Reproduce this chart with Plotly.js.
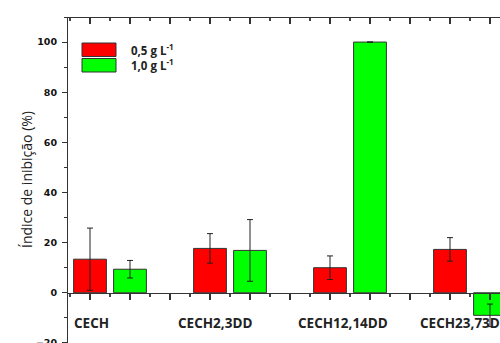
<!DOCTYPE html>
<html>
<head>
<meta charset="utf-8">
<script src="https://cdn.plot.ly/plotly-3.0.1.min.js"></script>
<style>html,body{margin:0;padding:0;overflow:hidden;background:#fff;}</style>
</head>
<body>
<div id="chart" style="width:500px;height:368px;"></div>
<script>
const categories = ['CECH', 'CECH2,3DD', 'CECH12,14DD', 'CECH23,73DD'];
const seriesNames = ['0,5 g L<sup>-1</sup>', '1,0 g L<sup>-1</sup>'];
const low = [13.4, 17.7, 10.0, 17.3];
const lowErr = [12.4, 5.9, 4.7, 4.7];
const high = [9.4, 16.9, 100, -9.0];
const highErr = [3.5, 12.3, null, 4.5];
const yTickVals = [-20, 0, 20, 40, 60, 80, 100];
const yTitle = 'Índice de inibição (%)';

const W = 500, H = 368, L = 68, T = 17;
const PW = W - L, PH = H - T;
const px = (x) => (x - L) / PW;
const py = (y) => (H - y) / PH;

const redX = categories.map((c, i) => i * 3 + 1);
const greenX = categories.map((c, i) => i * 3 + 2);
const labelShift = [0.45, 0.85, 0.85, 0.8];

const barLine = {color: '#333', width: 1};
const traces = [
  {type: 'bar', x: redX, y: low, width: 0.82, name: seriesNames[0],
   marker: {color: '#ff0000', line: barLine},
   error_y: {type: 'data', array: lowErr, visible: true, color: '#222', thickness: 1, width: 3}},
  {type: 'bar', x: greenX, y: high, width: 0.82, name: seriesNames[1],
   marker: {color: '#00ff00', line: barLine},
   error_y: {type: 'data', array: highErr, visible: true, color: '#222', thickness: 1, width: 3}},
  {type: 'scatter', x: [1], y: [0], xaxis: 'x2', yaxis: 'y', mode: 'markers',
   marker: {opacity: 0, size: 1}, showlegend: false, hoverinfo: 'skip'}
];

const xr = [0.45, 0.45 + PW / 40];
const axisCommon = {
  range: xr, autorange: false, showline: true, linecolor: '#333', linewidth: 1,
  tickmode: 'linear', tick0: 1, dtick: 1, ticklen: 6, tickwidth: 1.2, tickcolor: '#333',
  showticklabels: false, showgrid: false, zeroline: false,
  side: 'bottom', anchor: 'free', ticks: 'outside',
  minor: {ticks: 'outside', tick0: 0.5, dtick: 1, ticklen: 3, tickcolor: '#444'}
};

const annotations = categories.map((c, i) => ({
  x: redX[i] - labelShift[i], y: -12, xref: 'x', yref: 'y', text: c, showarrow: false,
  xanchor: 'left', yanchor: 'middle',
  font: {family: 'Open Sans', size: 13.5, weight: 'bold', color: '#222'}
}));
annotations.push({
  x: px(26), y: py(180), xref: 'paper', yref: 'paper', text: yTitle, textangle: -90,
  showarrow: false, xanchor: 'center', yanchor: 'middle',
  font: {family: 'Open Sans', size: 14, color: '#222'}
});
const legColors = ['#ff0000', '#00ff00'];
const legTop = [43, 58.5];
const shapes = [];
seriesNames.forEach((n, i) => {
  shapes.push({type: 'rect', xref: 'paper', yref: 'paper',
    x0: px(82), x1: px(116), y0: py(legTop[i] + 13.5), y1: py(legTop[i]),
    fillcolor: legColors[i], line: {color: '#333', width: 1}});
  annotations.push({x: px(129), y: py(legTop[i] + 6), xref: 'paper', yref: 'paper',
    text: n, showarrow: false, xanchor: 'left', yanchor: 'middle',
    font: {family: 'Open Sans', size: 11.5, weight: 'bold', color: '#222'}});
});

const layout = {
  width: W, height: H, margin: {l: L, r: 0, t: T, b: 0, pad: 0},
  paper_bgcolor: '#fff', plot_bgcolor: 'rgba(0,0,0,0)', showlegend: false, barmode: 'overlay',
  xaxis: Object.assign({}, axisCommon, {position: 30 / 140}),
  xaxis2: Object.assign({}, axisCommon, {overlaying: 'x', position: 1}),
  yaxis: {range: [-30, 110], autorange: false, showline: true, linecolor: '#333', linewidth: 1,
    ticks: 'outside', ticklen: 5, tickcolor: '#333', tickvals: yTickVals,
    ticklabelstandoff: 3,
    tickfont: {family: 'DejaVu Sans', size: 9.5, weight: 'bold', color: '#111'},
    minor: {ticks: 'outside', ticklen: 3, dtick: 10, tick0: 0, tickcolor: '#333'},
    showgrid: false, zeroline: false},
  annotations: annotations, shapes: shapes
};
Plotly.newPlot('chart', traces, layout, {staticPlot: true, displayModeBar: false});
</script>
</body>
</html>
